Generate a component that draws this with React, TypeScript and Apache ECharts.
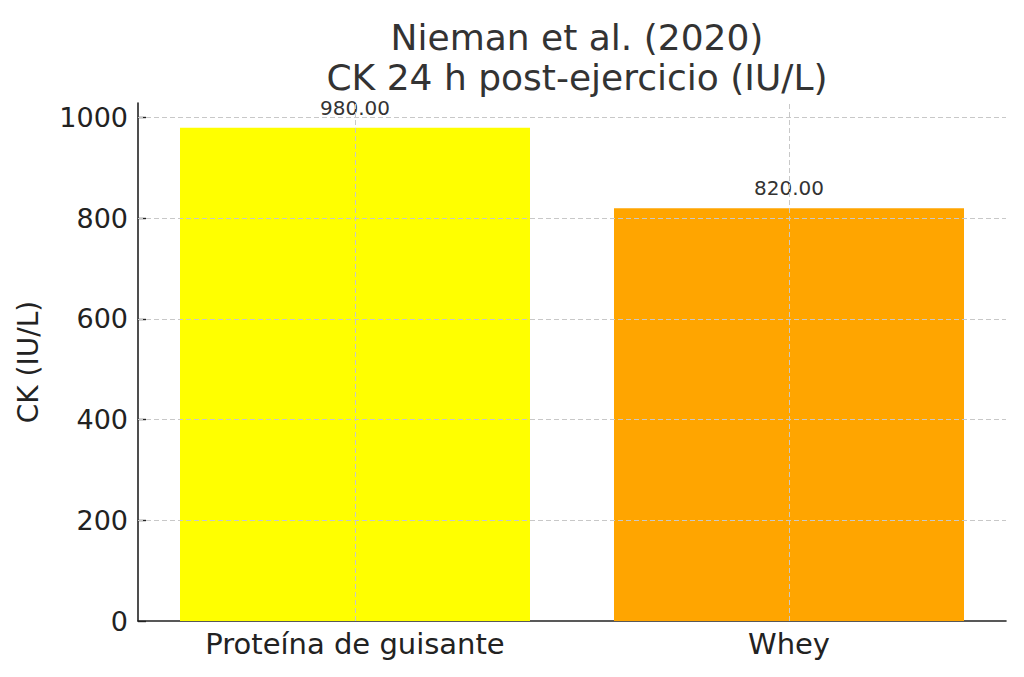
import React, { useEffect, useRef } from 'react'
import * as echarts from 'echarts'

const categories = ['Proteína de guisante', 'Whey']
const ckValues = [980, 820]
const barColors = ['#ffff00', '#ffa500']
const yTicks = [0, 200, 400, 600, 800, 1000]

const FONT = '"DejaVu Sans", sans-serif'

const App: React.FC = () => {
  const chartRef = useRef<HTMLDivElement>(null)

  useEffect(() => {
    if (!chartRef.current) return
    const chart = echarts.init(chartRef.current, undefined, { renderer: 'svg' })

    // dashed grid drawn above the bars, like the original
    const gridStyle = { color: '#c8c8c8', type: [5, 3] as number[], width: 1 }

    const option: echarts.EChartsOption = {
      animation: false,
      backgroundColor: '#ffffff',
      title: {
        text: 'Nieman et al. (2020)\nCK 24 h post-ejercicio (IU/L)',
        left: 572,
        top: 12,
        textAlign: 'center',
        textStyle: {
          fontFamily: FONT,
          fontSize: 36,
          fontWeight: 'normal',
          color: '#333333',
          lineHeight: 40,
        },
      },
      grid: { left: 138, right: 18, top: 103, bottom: 56 },
      xAxis: {
        type: 'category',
        data: categories,
        boundaryGap: true,
        axisLine: { show: true, lineStyle: { color: '#222', width: 1.6 } },
        axisTick: { show: true, alignWithLabel: true, inside: true, length: 8, lineStyle: { color: '#222', width: 1.4 } },
        axisLabel: { fontFamily: FONT, fontSize: 29, color: '#222', margin: 8 },
        splitLine: { show: false },
      },
      yAxis: {
        type: 'value',
        min: 0,
        max: 1029,
        interval: 200,
        name: 'CK (IU/L)',
        nameLocation: 'middle',
        nameGap: 96,
        nameTextStyle: { fontFamily: FONT, fontSize: 28, color: '#222' },
        axisLine: { show: true, lineStyle: { color: '#222', width: 1.6 } },
        axisTick: { show: true, inside: true, length: 8, lineStyle: { color: '#222', width: 1.4 } },
        axisLabel: {
          fontFamily: FONT,
          fontSize: 27,
          color: '#222',
          margin: 10,
          showMaxLabel: false,
          formatter: (v: number) => (yTicks.includes(v) ? String(v) : ''),
        },
        splitLine: { show: false },
      },
      series: [
        {
          type: 'bar',
          data: ckValues.map((v, i) => ({ value: v, itemStyle: { color: barColors[i] } })),
          barWidth: 350,
          label: {
            show: true,
            position: 'top',
            distance: 10,
            fontFamily: FONT,
            fontSize: 20,
            color: '#333333',
            formatter: (p: any) => Number(p.value).toFixed(2),
          },
          markLine: {
            silent: true,
            symbol: 'none',
            label: { show: false },
            lineStyle: gridStyle,
            z: 3,
            data: [
              ...yTicks.slice(1).map((t) => ({ yAxis: t })),
              ...categories.map((c) => ({ xAxis: c })),
            ],
          },
        },
      ],
    }

    chart.setOption(option)
    return () => {
      chart.dispose()
    }
  }, [])

  return <div ref={chartRef} style={{ width: '1024px', height: '677px', margin: '-8px' }} />
}

export default App
